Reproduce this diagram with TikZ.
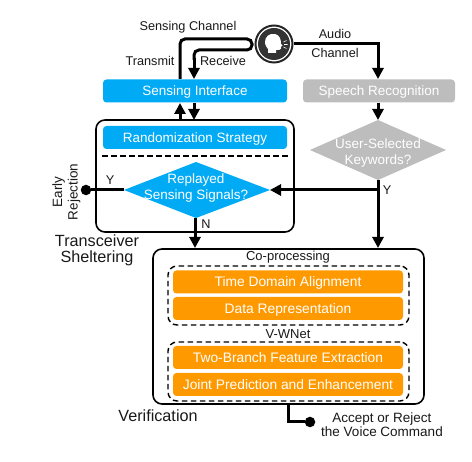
\documentclass[tikz,border=0pt]{standalone}
\usepackage{fontspec}
\setmainfont{Liberation Sans}
\usetikzlibrary{arrows.meta,shapes.geometric}
\definecolor{cblue}{RGB}{0,170,245}
\definecolor{cgray}{RGB}{189,189,189}
\definecolor{corange}{RGB}{255,153,0}
\definecolor{ctext}{RGB}{25,25,25}
\tikzset{
  x=1pt,y=-1pt,
  flat/.style={rounded corners=3.5pt,inner sep=0pt,text=white,font=\fontsize{13.5}{15}\selectfont,minimum width=#1,minimum height=23pt,text height=10pt,text depth=0pt},
  bluebox/.style={flat=184pt,fill=cblue},
  graybox/.style={flat=152pt,fill=cgray},
  orangebox/.style={flat=230pt,fill=corange,font=\fontsize{13.8}{15}\selectfont},
  frame/.style={draw=black,line width=1.6pt,rounded corners=9pt,inner sep=0pt},
  dashframe/.style={draw=black,line width=1.4pt,dash pattern=on 5.5pt off 3.5pt,rounded corners=9pt,inner sep=0pt},
  choicetext/.style={inner sep=0pt,align=center,text=white,font=\fontsize{13.5}{16}\selectfont},
  lab/.style={inner sep=0pt,text=ctext,align=center,font=\fontsize{12.7}{19}\selectfont},
  biglab/.style={inner sep=0pt,text=ctext,align=center,font=\fontsize{16.2}{16}\selectfont},
  wire/.style={draw=black,line width=3pt},
  arrowwire/.style={wire,-{Triangle[length=11pt,width=11pt]},shorten >=0pt},
  enddot/.style={circle,fill=black,inner sep=0pt,minimum size=10.5pt},
}
\begin{document}
\begin{tikzpicture}
\useasboundingbox (0,0) rectangle (472,462);
% frames
\node[frame,minimum width=198pt,minimum height=112pt] (shelter) at (195,176) {};
\node[frame,minimum width=271pt,minimum height=155pt] (verify) at (288.5,326.5) {};
\node[dashframe,minimum width=241pt,minimum height=59pt] (coproc) at (288.5,295.5) {};
\node[dashframe,minimum width=241pt,minimum height=59pt] (vwnet) at (288.5,371.5) {};
% boxes
\node[bluebox] (iface) at (195,91) {Sensing Interface};
\node[graybox] (speech) at (379,91) {Speech Recognition};
\node[bluebox] (random) at (195,137.5) {Randomization Strategy};
\node[orangebox] (align) at (288,282) {Time Domain Alignment};
\node[orangebox] (repr) at (288,308.5) {Data Representation};
\node[orangebox] (branch) at (288,357.5) {Two-Branch Feature Extraction};
\node[orangebox] (joint) at (288,384.5) {Joint Prediction and Enhancement};
% diamonds
\path[fill=cblue] (124,190) -- (196,162) -- (270,190) -- (196,218) -- cycle;
\path[fill=cgray] (310,150) -- (378,120) -- (446,150) -- (378,180) -- cycle;
\node[choicetext] (replay) at (196,188.5) {Replayed\\Sensing Signals?};
\node[choicetext] (keys) at (378,153) {User-Selected\\Keywords?};
\coordinate (replayW) at (124,190);
\coordinate (replayE) at (270,190);
\coordinate (replayS) at (195,218);
\coordinate (keysN) at (378,120);
\coordinate (keysS) at (378,180);
\coordinate (branchpt) at (378,190);
% separator
\draw[black,line width=1.4pt,dash pattern=on 5.5pt off 3.5pt] (102,156) -- (290,156);
% icon
\node[circle,draw=black!85,line width=2pt,fill=white,minimum size=37pt,inner sep=0pt] (user) at (274,44) {};
\fill[black!80] (274,44) circle (16pt);
\fill[white] (275,34) .. controls (269,33) and (265,37) .. (265,42)
  .. controls (265,46) and (267,47) .. (268,49) -- (268,53)
  -- (276,53) -- (276,50) -- (279,50) .. controls (281,50) and (281,48) .. (281,47)
  -- (282.5,45.5) -- (281,44) .. controls (281,40) and (280,35) .. (275,34) -- cycle;
\draw[white,line width=.6pt] (283.5,42) -- (286.5,40.5) (284,44.5) -- (287.5,44.5) (283.5,47) -- (286.5,48.5);
% channels
\coordinate (xmit) at (180,79);
\coordinate (recv) at (194,79);
\draw[wire,rounded corners=5pt] (xmit) -- (180,39) -- (252,39) -- (252,50) -- (194,50) -- (194,60);
\draw[arrowwire] (194,58) -- (recv);
\draw[wire] (user.east) -- (378,44) -- (378,60);
\draw[arrowwire] (378,58) -- (378,79);
\draw[arrowwire] (speech.south -| keysN) -- (keysN);
\draw[arrowwire] (180,120) -- (180,103);
\draw[arrowwire] (194,103) -- (194,120);
% decisions
\node[enddot] (reject) at (86,190) {};
\draw[wire] (replayW) -- (reject);
\draw[arrowwire] (replayS) -- (195,248);
\draw[arrowwire] (keysS) -- (378,248);
\draw[arrowwire] (branchpt) -- (replayE);
% output
\node[enddot] (result) at (310,422) {};
\draw[wire] (288,404) -- (288,422) -- (result);
% labels
\node[lab] (lsc) at (188,27) {Sensing Channel};
\node[lab] (ltr) at (150,61) {Transmit};
\node[lab] (lrc) at (223,61) {Receive};
\node[lab] (lau) at (335,43.5) {Audio\\Channel};
\node[lab] (ly1) at (110,180) {Y};
\node[lab] (ln) at (206,224) {N};
\node[lab] (ly2) at (387,190) {Y};
\node[lab,rotate=90,font=\fontsize{13.5}{15.5}\selectfont] (lrej) at (66.5,192) {Early\\Rejection};
\node[biglab] (lts) at (97,250) {Transceiver\\Sheltering};
\node[biglab] (lvr) at (158,416) {Verification};
\node[lab,font=\fontsize{13}{15}\selectfont] (lco) at (288,257) {Co-processing};
\node[lab,font=\fontsize{13}{15}\selectfont] (lvw) at (288,334) {V-WNet};
\node[lab,font=\fontsize{13.5}{14.3}\selectfont] (lac) at (382,424.5) {Accept or Reject\\the Voice Command};
\end{tikzpicture}
\end{document}
